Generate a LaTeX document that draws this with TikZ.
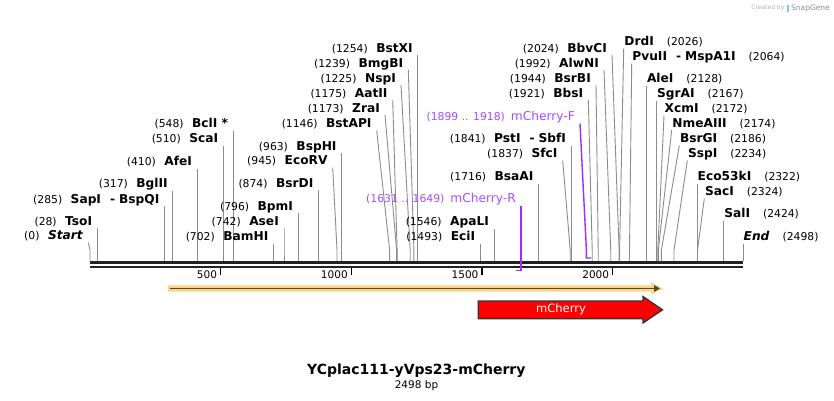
\documentclass[tikz,border=0pt]{standalone}
\usepackage{fontspec}
\setmainfont{DejaVu Sans}
\usetikzlibrary{positioning,arrows.meta}
\definecolor{cutgray}{HTML}{8C8C8C}
\definecolor{primerline}{HTML}{9B2EFF}
\definecolor{primertext}{HTML}{A64DFF}
\definecolor{orfglow}{HTML}{FDD58A}
\definecolor{orfdark}{HTML}{5A4A24}
\definecolor{featred}{HTML}{FF0000}
\definecolor{featedge}{HTML}{333333}
\definecolor{backbone}{HTML}{222222}
\definecolor{snapblue}{HTML}{7CC6F0}
\newcommand{\bpnum}[1]{{\fontsize{10.8}{12}\selectfont(#1)}}
\newcommand{\pairsep}{\hspace{9pt}-\hspace{4pt}}
% cut site, label left of its line: id, cut x, line top x, line top y, position, name
\newcommand{\siteL}[6]{%
  \coordinate (c#1) at (#2,261);
  \node[siteleft] (l#1) at (#3,#4) {\bpnum{#5}\hspace{8.5pt}\textbf{#6}};
  \draw[cutline] (l#1.south east) -- ([yshift=11pt]c#1) -- (c#1);}
% cut site, label right of its line
\newcommand{\siteR}[6]{%
  \coordinate (c#1) at (#2,261);
  \node[siteright] (l#1) at (#3,#4) {\textbf{#6}\hspace{13pt}\bpnum{#5}};
  \draw[cutline] (l#1.south west) -- ([yshift=11pt]c#1) -- (c#1);}

\begin{document}
\begin{tikzpicture}[
    x=1pt, y=-1pt,
    sitebase/.style={
      font=\fontsize{12.2}{14}\selectfont,
      inner ysep=0pt,
      text height=9pt,
      text depth=2.5pt
    },
    siteleft/.style={sitebase, inner xsep=5pt, anchor=south east},
    siteright/.style={sitebase, inner xsep=0.5pt, anchor=south west},
    primerlab/.style={sitebase, inner xsep=5pt, anchor=south east, text=primertext},
    cutline/.style={draw=cutgray, line width=0.9pt},
    primer/.style={draw=primerline, line width=1.4pt},
    strand/.style={draw=backbone, line width=3pt},
    tick/.style={draw=black, line width=1.3pt},
    ticklab/.style={font=\fontsize{10.5}{12}\selectfont, inner sep=0pt, anchor=east},
    featbox/.style={draw=featedge, fill=featred, line width=1.3pt, line join=miter}
  ]
    \fill[white] (0,0) rectangle (834,400);
    \useasboundingbox (0,0) rectangle (834,400);

    % backbone
    \coordinate (seqstart) at (90,262.5);
    \coordinate (seqend) at (743,262.5);
    \draw[strand] (seqstart) -- (seqend);
    \draw[strand, line width=2.4pt] ([yshift=-4.2pt]seqstart) -- ([yshift=-4.2pt]seqend);
    \foreach \t in {500,1000,1500,2000} {
      \draw[tick] ({90+0.2614*\t},268) -- ++(0,7);
      \node[ticklab] at ({90+0.2614*\t-3.5},274.5) {\t};
    }

    % sites, labels on the left
    \siteL{Start}{90}{88.3}{242.5}{0}{\textit{Start}}
    \siteL{TsoI}{97.3}{97.3}{228}{28}{TsoI}
    \siteL{SapI}{164.5}{164.5}{206}{285}{SapI\pairsep BspQI}
    \siteL{BglII}{172.9}{172.9}{190.5}{317}{BglII}
    \siteL{AfeI}{197.2}{197.2}{168.5}{410}{AfeI}
    \siteL{ScaI}{223.3}{223.3}{145.5}{510}{ScaI}
    \siteL{BclI}{233.2}{233.2}{130.5}{548}{BclI *}
    \siteL{BamHI}{273.5}{273.5}{243.5}{702}{BamHI}
    \siteL{AseI}{284}{284}{228}{742}{AseI}
    \siteL{BpmI}{298.1}{298.1}{213}{796}{BpmI}
    \siteL{BsrDI}{318.5}{318.5}{190}{874}{BsrDI}
    \siteL{EcoRV}{337}{332.7}{167.5}{945}{EcoRV}
    \siteL{BspHI}{341.7}{341.7}{153}{963}{BspHI}
    \siteL{BstAPI}{389.6}{376.7}{130.5}{1146}{BstAPI}
    \siteL{ZraI}{396.6}{385}{115}{1173}{ZraI}
    \siteL{AatII}{397.1}{392.7}{100}{1175}{AatII}
    \siteL{NspI}{410.2}{401}{85}{1225}{NspI}
    \siteL{BmgBI}{413.9}{408.3}{70}{1239}{BmgBI}
    \siteL{BstXI}{417.8}{417.8}{55}{1254}{BstXI}
    \siteL{EciI}{480.3}{480.3}{243.5}{1493}{EciI}
    \siteL{ApaLI}{494.1}{494.1}{228.5}{1546}{ApaLI}
    \siteL{BsaAI}{538.6}{538.6}{183.5}{1716}{BsaAI}
    \siteL{SfcI}{570.2}{562.7}{160.5}{1837}{SfcI}
    \siteL{PstI}{571.2}{571.2}{145.5}{1841}{PstI\pairsep SbfI}
    \siteL{BbsI}{592.2}{588.3}{100}{1921}{BbsI}
    \siteL{BsrBI}{598.2}{596}{85}{1944}{BsrBI}
    \siteL{AlwNI}{610.7}{604}{70}{1992}{AlwNI}
    \siteL{BbvCI}{619.1}{612}{55}{2024}{BbvCI}

    % sites, labels on the right
    \siteR{DrdI}{619.6}{623.7}{48.5}{2026}{DrdI}
    \siteR{PvuII}{629.5}{631.7}{63.5}{2064}{PvuII\pairsep MspA1I}
    \siteR{AleI}{646.3}{646.3}{85.5}{2128}{AleI}
    \siteR{SgrAI}{656.5}{656.5}{100.5}{2167}{SgrAI}
    \siteR{XcmI}{657.8}{664}{115.5}{2172}{XcmI}
    \siteR{NmeAIII}{658.3}{671.7}{130}{2174}{NmeAIII}
    \siteR{BsrGI}{661.4}{679.3}{145.5}{2186}{BsrGI}
    \siteR{SspI}{674}{687.3}{160.5}{2234}{SspI}
    \siteR{EcoFTkI}{697}{697}{183.5}{2322}{Eco53kI}
    \siteR{SacI}{697.5}{704.3}{198.5}{2324}{SacI}
    \siteR{SalI}{723.6}{723.6}{220.5}{2424}{SalI}
    \siteR{End}{743}{743}{243.5}{2498}{\textit{End}}

    % primers
    \node[primerlab] (lmCherryR) at (521,205.5)
      {\bpnum{1631 .. 1649}\hspace{6pt}mCherry-R};
    \coordinate (pRa) at (521,270.5);
    \coordinate (pRb) at (516.3,270.5);
    \draw[primer] (lmCherryR.south east) -- (pRa) -- (pRb);

    \node[primerlab] (lmCherryF) at (580,123.5)
      {\bpnum{1899 .. 1918}\hspace{6pt}mCherry-F};
    \coordinate (pFa) at (586.4,258);
    \coordinate (pFb) at (591.4,258);
    \draw[primer] (lmCherryF.south east) -- ([yshift=8pt]pFa) -- (pFa) -- (pFb);

    % features
    \fill[orfglow] (168,285.3) -- (651,285.3) -- (651,282.3) -- (663,288.5)
      -- (651,294.7) -- (651,291.7) -- (168,291.7) -- cycle;
    \draw[draw=orfdark, line width=1.6pt, -{Triangle[length=6pt,width=6.5pt]}]
      (170,288.5) -- (660,288.5);

    \draw[featbox] (478.3,301) -- (643,301) -- (643,296.5) -- (662.5,309.8)
      -- (643,323) -- (643,318.8) -- (478.3,318.8) -- cycle;
    \node[text=white, font=\fontsize{11.5}{13}\selectfont] (mcherry) at (561,309.8) {mCherry};

    % title
    \node[anchor=base, font=\bfseries\fontsize{14}{16}\selectfont] (title) at (416.3,374.5)
      {YCplac111-yVps23-mCherry};
    \node[anchor=base, font=\fontsize{10.5}{12}\selectfont] (length) at (416.5,388) {2498 bp};

    % credit
    \node[anchor=base east, inner sep=0pt, text=black!45, font=\fontsize{7.5}{9}\selectfont]
      (snapgene) at (830,10) {SnapGene};
    \node[fill=snapblue, minimum width=2.5pt, minimum height=7pt, inner sep=0pt,
      left=1.5pt of snapgene] (logo) {};
    \node[inner sep=0pt, text=black!30, font=\fontsize{6}{7}\selectfont,
      left=2pt of logo] (credit) {Created by};
  \end{tikzpicture}
\end{document}
